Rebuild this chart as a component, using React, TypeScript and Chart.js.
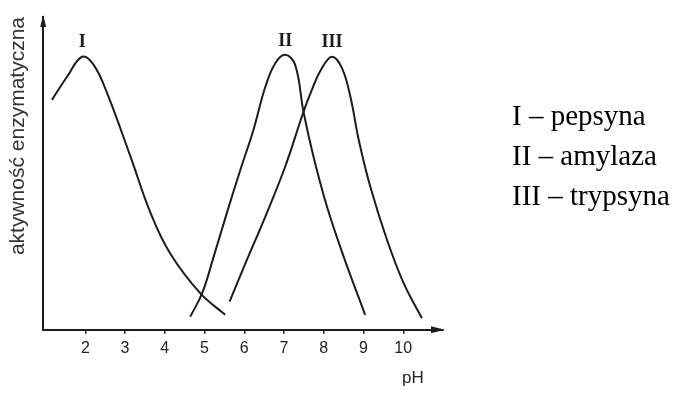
import React, { useEffect, useRef } from "react";
import { Chart, registerables } from "chart.js";

Chart.register(...registerables);

// ---- data ----
const PH_TICKS = [2, 3, 4, 5, 6, 7, 8, 9, 10];

const PEPSIN_PH = [1.16, 1.54, 1.92, 2.21, 2.55, 3.13, 3.64, 4.14, 4.89, 5.52];
const PEPSIN_ACT = [73.5, 80.9, 87.3, 84.7, 75.6, 55.6, 37.4, 24.3, 11.7, 4.8];

const AMYLASE_PH = [4.64, 4.94, 5.23, 5.56, 5.9, 6.23, 6.53, 6.78, 7.03, 7.28, 7.49, 7.74, 8.08, 8.5, 9.04];
const AMYLASE_ACT = [4.2, 11.7, 23.4, 37.3, 51.1, 63.9, 77.7, 85.2, 87.9, 84.7, 69.7, 55.4, 39.4, 23.4, 4.8];

const TRYPSIN_PH = [5.63, 6.03, 6.53, 7.03, 7.49, 7.7, 7.95, 8.21, 8.46, 8.67, 8.88, 9.17, 9.59, 10.01, 10.47];
const TRYPSIN_ACT = [9.0, 21.3, 36.2, 52.2, 69.7, 76.7, 83.6, 87.3, 83.6, 74.5, 60.7, 45.8, 28.8, 14.9, 3.7];

const SERIES_LABELS = ["I", "II", "III"];
const LEGEND_LINES = ["I – pepsyna", "II – amylaza", "III – trypsyna"];
const Y_TITLE = "aktywność enzymatyczna";
const X_TITLE = "pH";

const toPoints = (xs: number[], ys: number[]) => xs.map((x, i) => ({ x, y: ys[i] }));

const INK = "#1c1c1c";

const decorPlugin = {
  id: "decor",
  afterDraw(chart: any) {
    const { ctx, chartArea } = chart;
    const { left, right, top, bottom } = chartArea;
    ctx.save();
    ctx.fillStyle = INK;
    // x-axis arrow
    ctx.beginPath();
    ctx.moveTo(right + 2, bottom);
    ctx.lineTo(right - 12, bottom - 3.5);
    ctx.lineTo(right - 12, bottom + 3.5);
    ctx.closePath();
    ctx.fill();
    // y-axis arrow
    ctx.beginPath();
    ctx.moveTo(left, top - 2);
    ctx.lineTo(left - 3, top + 10);
    ctx.lineTo(left + 3, top + 10);
    ctx.closePath();
    ctx.fill();

    // roman numerals above peaks
    ctx.font = "bold 18px 'Liberation Serif', serif";
    ctx.textAlign = "center";
    ctx.textBaseline = "middle";
    chart.data.datasets.forEach((ds: any, i: number) => {
      const meta = chart.getDatasetMeta(i);
      let best = 0;
      ds.data.forEach((p: any, j: number) => {
        if (p.y > ds.data[best].y) best = j;
      });
      const el = meta.data[best];
      ctx.fillText(SERIES_LABELS[i], el.x, el.y - 14);
    });

    // pH label
    ctx.font = "17px 'Liberation Sans', sans-serif";
    ctx.textAlign = "left";
    ctx.textBaseline = "alphabetic";
    ctx.fillStyle = "#222";
    ctx.fillText(X_TITLE, right - 41, bottom + 53);

    // legend text
    ctx.fillStyle = "#000";
    ctx.font = "29px 'Liberation Serif', 'Times New Roman', serif";
    LEGEND_LINES.forEach((t, i) => {
      ctx.fillText(t, right + 69, top + 108 + 40 * i);
    });
    ctx.restore();
  },
};

export default function App() {
  const ref = useRef<HTMLCanvasElement | null>(null);

  useEffect(() => {
    if (!ref.current) return;
    const lineStyle = {
      borderColor: INK,
      borderWidth: 2,
      pointRadius: 0,
      fill: false,
      tension: 0.4,
    };
    const chart = new Chart(ref.current, {
      type: "line",
      data: {
        datasets: [
          { label: "I – pepsyna", data: toPoints(PEPSIN_PH, PEPSIN_ACT), ...lineStyle },
          { label: "II – amylaza", data: toPoints(AMYLASE_PH, AMYLASE_ACT), ...lineStyle },
          { label: "III – trypsyna", data: toPoints(TRYPSIN_PH, TRYPSIN_ACT), ...lineStyle },
        ],
      },
      options: {
        animation: false,
        responsive: true,
        maintainAspectRatio: false,
        layout: { padding: { left: 6, top: 17, right: 250, bottom: 34 } },
        plugins: {
          legend: { display: false },
          tooltip: { enabled: false },
        },
        scales: {
          x: {
            type: "linear",
            min: 0.94,
            max: 11,
            afterBuildTicks: (axis: any) => {
              axis.ticks = PH_TICKS.map((v) => ({ value: v }));
            },
            grid: {
              display: true,
              drawOnChartArea: false,
              drawTicks: true,
              tickLength: 4,
              color: INK,
              lineWidth: 1.5,
            },
            border: { display: true, color: INK, width: 2 },
            ticks: {
              autoSkip: false,
              padding: 5,
              color: "#222",
              font: { family: "'Liberation Sans', sans-serif", size: 16 },
            },
          },
          y: {
            type: "linear",
            min: 0,
            max: 100,
            grid: { display: false, drawTicks: false },
            border: { display: true, color: INK, width: 2 },
            ticks: { display: false },
            title: {
              display: true,
              text: Y_TITLE,
              align: "end",
              color: "#333",
              font: { family: "'Liberation Sans', sans-serif", size: 21 },
              padding: { top: 0, bottom: 12 },
            },
          },
        },
      },
      plugins: [decorPlugin],
    });
    return () => chart.destroy();
  }, []);

  return (
    <div style={{ position: "fixed", left: 0, top: 0, width: 693, height: 397, background: "#fff" }}>
      <canvas ref={ref} />
    </div>
  );
}
